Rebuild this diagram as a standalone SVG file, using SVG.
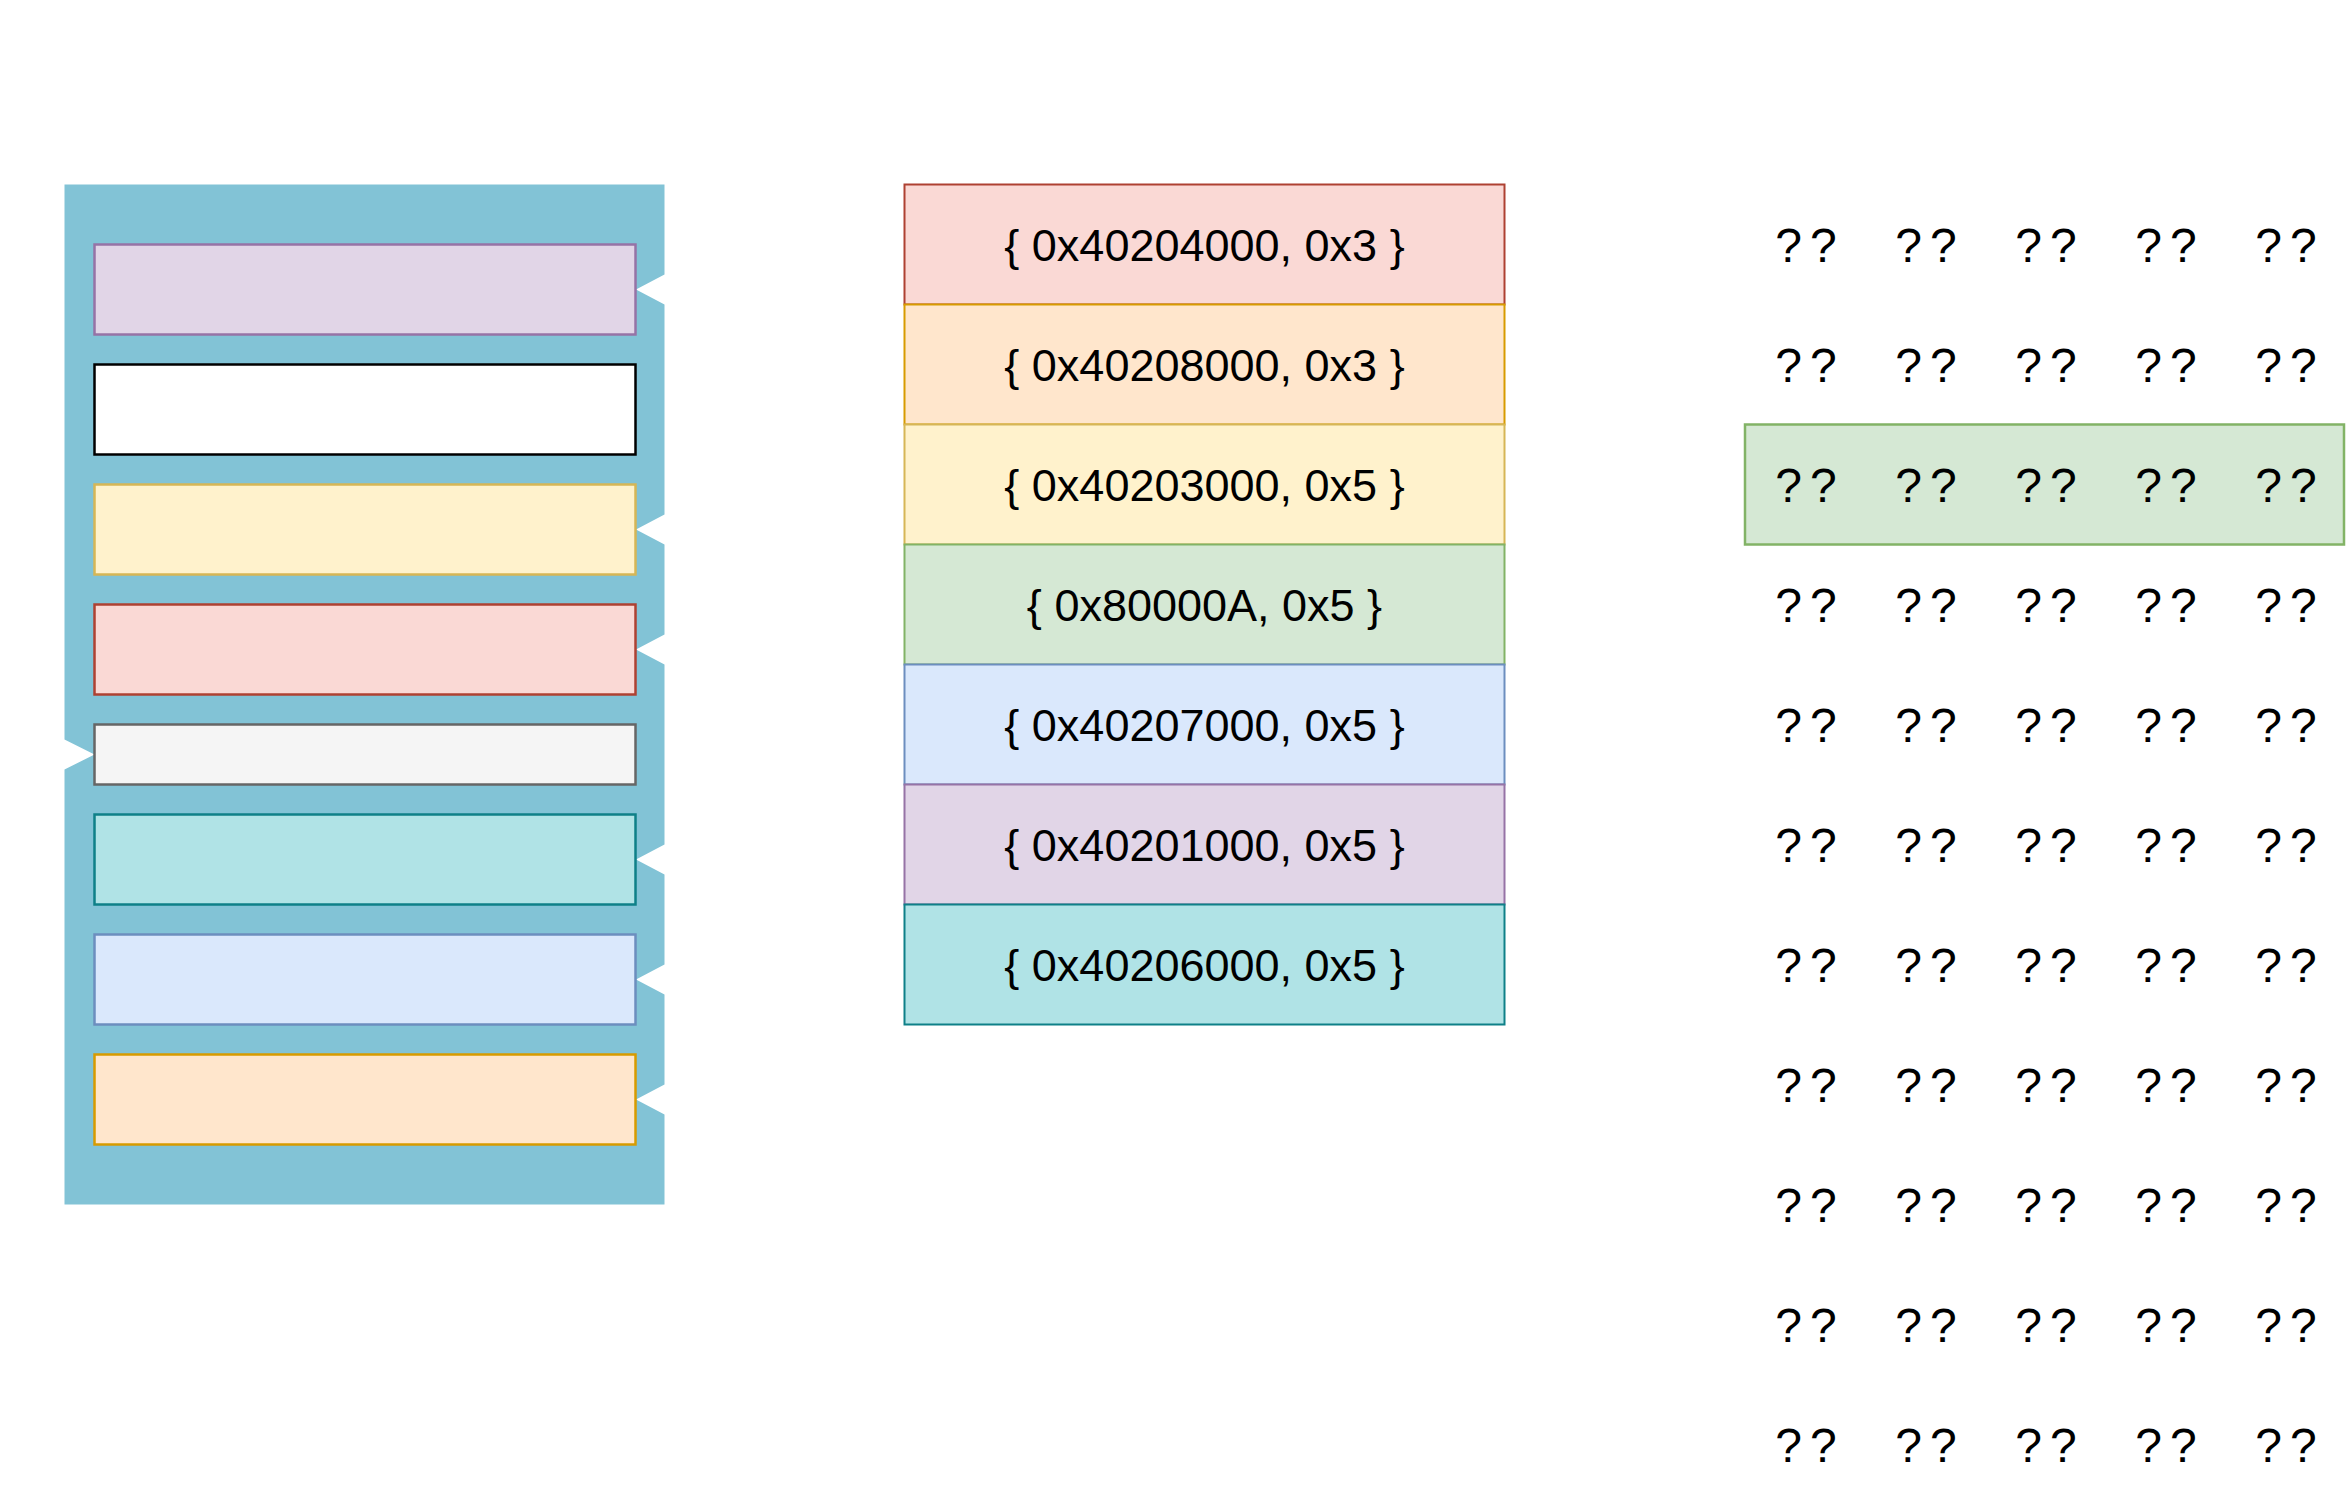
<svg xmlns="http://www.w3.org/2000/svg" width="2346" height="1506" viewBox="0 0 2346 1506">
<style>
.box{stroke-width:2.5}
.row{stroke-width:2}
.lbl{font-family:"Liberation Sans",Arial,sans-serif;font-size:45px;fill:#000;text-anchor:middle}
.q{font-family:"Liberation Sans",Arial,sans-serif;font-size:48px;fill:#000;text-anchor:middle;letter-spacing:8px}
.purple{fill:#e1d5e7;stroke:#9673a6}
.white{fill:#ffffff;stroke:#000000}
.yellow{fill:#fff2cc;stroke:#d6b656}
.red{fill:#fad9d5;stroke:#ae4132}
.grey{fill:#f5f5f5;stroke:#666666}
.teal{fill:#b0e3e6;stroke:#0e8088}
.blue{fill:#dae8fc;stroke:#6c8ebf}
.orange{fill:#ffe6cc;stroke:#d79b00}
.green{fill:#d5e8d4;stroke:#82b366}
</style>
<rect width="2346" height="1506" fill="#ffffff"/>
<g id="panel">
<path fill="#82c3d6" d="M64.5,184.5 H664.5 V274.5 L636,289.5 L664.5,304.5 V514.5 L636,529.5 L664.5,544.5 V634.5 L636,649.5 L664.5,664.5 V844.5 L636,859.5 L664.5,874.5 V964.5 L636,979.5 L664.5,994.5 V1084.5 L636,1099.5 L664.5,1114.5 V1204.5 H64.5 V769.5 L94.5,754.5 L64.5,739.5 Z"/>
</g>
<g id="slot-purple"><rect class="box purple" x="94.5" y="244.5" width="541" height="90"/></g>
<g id="slot-white"><rect class="box white" x="94.5" y="364.5" width="541" height="90"/></g>
<g id="slot-yellow"><rect class="box yellow" x="94.5" y="484.5" width="541" height="90"/></g>
<g id="slot-red"><rect class="box red" x="94.5" y="604.5" width="541" height="90"/></g>
<g id="slot-grey"><rect class="box grey" x="94.5" y="724.5" width="541" height="60"/></g>
<g id="slot-teal"><rect class="box teal" x="94.5" y="814.5" width="541" height="90"/></g>
<g id="slot-blue"><rect class="box blue" x="94.5" y="934.5" width="541" height="90"/></g>
<g id="slot-orange"><rect class="box orange" x="94.5" y="1054.5" width="541" height="90"/></g>

<g id="row1"><rect class="row red" x="904.5" y="184.5" width="600" height="120"/><text class="lbl" x="1204.5" y="261">{ 0x40204000, 0x3 }</text></g>
<g id="row2"><rect class="row orange" x="904.5" y="304.5" width="600" height="120"/><text class="lbl" x="1204.5" y="381">{ 0x40208000, 0x3 }</text></g>
<g id="row3"><rect class="row yellow" x="904.5" y="424.5" width="600" height="120"/><text class="lbl" x="1204.5" y="501">{ 0x40203000, 0x5 }</text></g>
<g id="row4"><rect class="row green" x="904.5" y="544.5" width="600" height="120"/><text class="lbl" x="1204.5" y="621">{ 0x80000A, 0x5 }</text></g>
<g id="row5"><rect class="row blue" x="904.5" y="664.5" width="600" height="120"/><text class="lbl" x="1204.5" y="741">{ 0x40207000, 0x5 }</text></g>
<g id="row6"><rect class="row purple" x="904.5" y="784.5" width="600" height="120"/><text class="lbl" x="1204.5" y="861">{ 0x40201000, 0x5 }</text></g>
<g id="row7"><rect class="row teal" x="904.5" y="904.5" width="600" height="120"/><text class="lbl" x="1204.5" y="981">{ 0x40206000, 0x5 }</text></g>

<g id="highlight"><rect class="row green" x="1745" y="424.5" width="599" height="120" style="stroke-width:2.5"/></g>

<g id="memory">
<text class="q" y="262"><tspan x="1810">??</tspan><tspan x="1930">??</tspan><tspan x="2050">??</tspan><tspan x="2170">??</tspan><tspan x="2290">??</tspan></text>
<text class="q" y="382"><tspan x="1810">??</tspan><tspan x="1930">??</tspan><tspan x="2050">??</tspan><tspan x="2170">??</tspan><tspan x="2290">??</tspan></text>
<text class="q" y="502"><tspan x="1810">??</tspan><tspan x="1930">??</tspan><tspan x="2050">??</tspan><tspan x="2170">??</tspan><tspan x="2290">??</tspan></text>
<text class="q" y="622"><tspan x="1810">??</tspan><tspan x="1930">??</tspan><tspan x="2050">??</tspan><tspan x="2170">??</tspan><tspan x="2290">??</tspan></text>
<text class="q" y="742"><tspan x="1810">??</tspan><tspan x="1930">??</tspan><tspan x="2050">??</tspan><tspan x="2170">??</tspan><tspan x="2290">??</tspan></text>
<text class="q" y="862"><tspan x="1810">??</tspan><tspan x="1930">??</tspan><tspan x="2050">??</tspan><tspan x="2170">??</tspan><tspan x="2290">??</tspan></text>
<text class="q" y="982"><tspan x="1810">??</tspan><tspan x="1930">??</tspan><tspan x="2050">??</tspan><tspan x="2170">??</tspan><tspan x="2290">??</tspan></text>
<text class="q" y="1102"><tspan x="1810">??</tspan><tspan x="1930">??</tspan><tspan x="2050">??</tspan><tspan x="2170">??</tspan><tspan x="2290">??</tspan></text>
<text class="q" y="1222"><tspan x="1810">??</tspan><tspan x="1930">??</tspan><tspan x="2050">??</tspan><tspan x="2170">??</tspan><tspan x="2290">??</tspan></text>
<text class="q" y="1342"><tspan x="1810">??</tspan><tspan x="1930">??</tspan><tspan x="2050">??</tspan><tspan x="2170">??</tspan><tspan x="2290">??</tspan></text>
<text class="q" y="1462"><tspan x="1810">??</tspan><tspan x="1930">??</tspan><tspan x="2050">??</tspan><tspan x="2170">??</tspan><tspan x="2290">??</tspan></text>
</g>
<g id="connectors"/>
</svg>
